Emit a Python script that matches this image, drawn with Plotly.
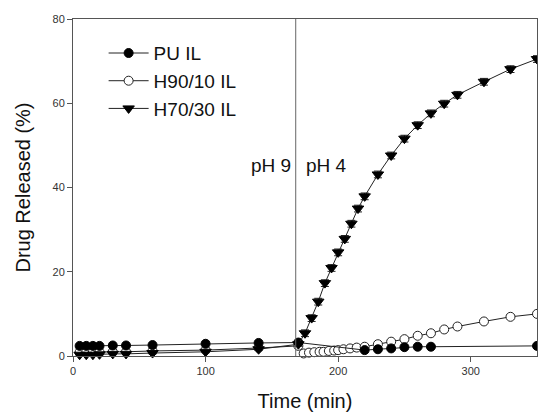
import plotly.graph_objects as go

# ---- data ----
pu_t = [5, 10, 15, 20, 30, 40, 60, 100, 140, 170, 220, 230, 240, 250, 260, 270, 350]
pu_v = [2.4, 2.4, 2.4, 2.4, 2.5, 2.5, 2.6, 2.9, 3.1, 3.2, 1.4, 1.6, 1.8, 2.1, 2.2, 2.2, 2.4]

h90_t = [5, 10, 15, 20, 30, 40, 60, 100, 140, 170,
         174, 178, 182, 186, 189, 193, 197, 200, 204, 209, 214, 220,
         230, 240, 250, 260, 270, 280, 290, 310, 330, 350]
h90_v = [0.9, 0.9, 0.9, 0.9, 1.0, 1.0, 1.2, 1.4, 1.9, 2.4,
         0.6, 0.8, 0.9, 1.0, 1.0, 1.2, 1.3, 1.4, 1.6, 1.8, 2.0, 2.2,
         2.8, 3.4, 4.0, 4.8, 5.4, 6.3, 7.0, 8.2, 9.3, 10.0]

h70_t = [5, 10, 15, 20, 30, 40, 60, 100, 140, 170,
         175, 180, 185, 190, 195, 200, 205, 210, 215, 220,
         230, 240, 250, 260, 270, 280, 290, 310, 330, 350]
h70_v = [0.3, 0.3, 0.3, 0.4, 0.5, 0.5, 0.7, 1.0, 1.6, 2.8,
         5.4, 9.0, 12.9, 17.3, 20.9, 24.6, 27.8, 31.4, 35.0, 37.9,
         43.1, 47.6, 51.6, 54.8, 57.6, 59.9, 62.0, 65.1, 68.1, 70.5]
h70_err = [0.2, 0.2, 0.2, 0.2, 0.2, 0.2, 0.2, 0.2, 0.2, 0.5,
           0.8, 0.8, 0.8, 0.8, 0.8, 0.8, 0.8, 0.8, 0.8, 0.8,
           0.8, 0.8, 0.8, 0.8, 0.8, 0.8, 0.8, 0.8, 0.8, 0.8]

ph_switch = 168
x_ticks = [0, 100, 200, 300]
y_ticks = [0, 20, 40, 60, 80]

LINE = "#222222"
FONT = "Liberation Sans, Arial, sans-serif"

fig = go.Figure()

fig.add_trace(go.Scatter(
    x=h90_t, y=h90_v, name="H90/10 IL", mode="lines+markers",
    line=dict(color=LINE, width=1),
    marker=dict(symbol="circle", size=9, color="white", line=dict(color=LINE, width=1)),
    legendrank=2, cliponaxis=False))
fig.add_trace(go.Scatter(
    x=pu_t, y=pu_v, name="PU IL", mode="lines+markers",
    line=dict(color=LINE, width=1),
    marker=dict(symbol="circle", size=9, color="black", line=dict(color="black", width=1)),
    legendrank=1, cliponaxis=False))
fig.add_trace(go.Scatter(
    x=h70_t, y=h70_v, name="H70/30 IL", mode="lines+markers",
    line=dict(color=LINE, width=1),
    marker=dict(symbol="triangle-down", size=10, color="black", line=dict(color="black", width=1)),
    error_y=dict(type="data", array=h70_err, color=LINE, thickness=1, width=4),
    legendrank=3, cliponaxis=False))

fig.add_shape(type="line", xref="x", yref="paper", x0=ph_switch, x1=ph_switch, y0=0, y1=1,
              line=dict(color="#666666", width=1))
fig.add_annotation(x=ph_switch, y=45.3, xref="x", yref="y", text="pH 9", showarrow=False,
                   xanchor="right", xshift=-3, font=dict(size=19, color="#111111", family=FONT))
fig.add_annotation(x=ph_switch, y=45.3, xref="x", yref="y", text="pH 4", showarrow=False,
                   xanchor="left", xshift=8, font=dict(size=19, color="#111111", family=FONT))

axis_common = dict(
    showgrid=False, zeroline=False, showline=True, linecolor="#555555", linewidth=1,
    mirror=True, ticks="outside", ticklen=5, tickcolor="#555555",
    tickfont=dict(size=11, color="#333333", family=FONT), automargin=False,
)

fig.update_xaxes(range=[0, 350], tickvals=x_ticks,
                 title=dict(text="Time (min)", font=dict(size=20, color="#111111", family=FONT), standoff=19),
                 **axis_common)
fig.update_yaxes(range=[0, 80], tickvals=y_ticks,
                 title=dict(text="Drug Released (%)", font=dict(size=20, color="#111111", family=FONT), standoff=16),
                 **axis_common)

fig.update_layout(
    width=530, height=404,
    margin=dict(l=65, r=1, t=11, b=56),
    paper_bgcolor="white", plot_bgcolor="white",
    font=dict(family=FONT, color="#111111"),
    showlegend=True,
    legend=dict(x=0.066, y=0.955, xanchor="left", yanchor="top",
                bgcolor="rgba(0,0,0,0)", font=dict(size=19, family=FONT, color="#111111"),
                itemwidth=40, tracegroupgap=0),
)

fig.write_html("out.html")
